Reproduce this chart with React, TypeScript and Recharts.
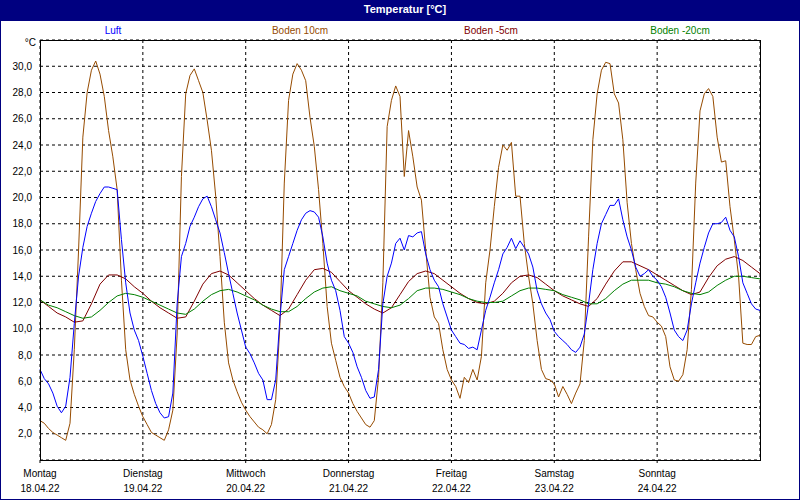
import { LineChart, Line, XAxis, YAxis, CartesianGrid } from 'recharts'

const FONT = '"Liberation Sans", Arial, sans-serif'

const dayNames = ['Montag', 'Dienstag', 'Mittwoch', 'Donnerstag', 'Freitag', 'Samstag', 'Sonntag']
const dayDates = ['18.04.22', '19.04.22', '20.04.22', '21.04.22', '22.04.22', '23.04.22', '24.04.22']
const dayTicks = [0, 24, 48, 72, 96, 120, 144]
const tempTicks = [2, 4, 6, 8, 10, 12, 14, 16, 18, 20, 22, 24, 26, 28, 30, 32]

// hourly values, hour 0 = 18.04.22 00:00
const luft = [
  6.9, 6.2, 5.8, 5.1, 4.1, 3.6, 4.1, 6.3, 10.4, 14.0,
  16.2, 17.8, 18.8, 19.7, 20.3, 20.8, 20.8, 20.7, 20.6, 16.8,
  13.5, 11.2, 9.9, 9.1, 7.9, 6.6, 5.3, 4.3, 3.6, 3.2,
  3.3, 5.1, 11.9, 15.5, 16.5, 17.8, 18.5, 19.3, 19.9, 20.1,
  19.3, 18.3, 17.3, 15.8, 14.2, 12.7, 11.2, 9.9, 8.6, 8.1,
  7.4, 6.6, 6.1, 4.6, 4.6, 6.1, 10.9, 14.5, 15.5, 16.5,
  17.5, 18.3, 18.8, 19.0, 18.9, 18.5, 17.0, 15.0, 13.7, 12.9,
  11.4, 9.4, 8.9, 8.2, 7.1, 6.3, 5.3, 4.7, 4.8, 6.9,
  11.9, 14.0, 15.0, 16.5, 16.9, 16.0, 17.1, 17.0, 17.3, 17.4,
  15.7, 14.5, 13.7, 13.2, 11.9, 10.9, 9.9, 9.4, 8.9, 8.8,
  8.5, 8.6, 8.4, 9.9, 11.4, 12.4, 13.5, 14.5, 15.7, 16.2,
  16.9, 16.1, 16.7, 16.2, 15.7, 14.7, 12.9, 11.9, 11.2, 10.7,
  9.8, 9.4, 9.1, 8.8, 8.4, 8.2, 8.6, 9.6, 11.9, 14.5,
  16.5, 18.0, 18.7, 19.4, 19.4, 19.9, 18.3, 17.0, 16.0, 14.7,
  14.0, 14.2, 14.5, 14.0, 13.7, 13.2, 12.4, 11.2, 9.9, 9.4,
  9.1, 9.9, 11.9, 13.5, 15.0, 16.2, 17.3, 18.0, 18.0, 18.1,
  18.5, 17.5, 17.0, 15.5, 13.5, 12.7, 11.9, 11.5, 11.4,
]

const boden10 = [
  3.0, 2.8, 2.4, 2.1, 1.9, 1.7, 1.5, 2.8, 8.4, 16.0,
  24.6, 28.0, 29.7, 30.4, 29.4, 27.7, 25.1, 23.1, 20.6, 13.7,
  8.4, 6.1, 5.0, 4.1, 3.3, 2.7, 2.1, 1.9, 1.7, 1.5,
  2.3, 3.8, 9.6, 21.6, 27.9, 29.3, 29.8, 28.9, 28.0, 25.9,
  23.6, 20.1, 15.5, 10.5, 7.4, 6.1, 5.2, 4.4, 3.8, 3.3,
  2.9, 2.5, 2.3, 2.0, 2.7, 4.6, 10.4, 21.1, 27.4, 29.4,
  30.2, 29.7, 28.9, 26.1, 23.9, 20.6, 16.5, 11.7, 8.9, 7.6,
  6.3, 5.6, 5.1, 4.3, 3.7, 3.2, 2.7, 2.5, 3.0, 6.3,
  13.5, 25.4, 27.4, 28.5, 27.7, 21.6, 25.1, 23.1, 20.8, 19.8,
  16.0, 12.4, 10.9, 10.4, 8.4, 6.9, 6.1, 5.6, 4.7, 6.3,
  5.9, 6.9, 6.1, 7.9, 13.5, 16.0, 19.3, 22.3, 24.0, 23.6,
  24.2, 20.1, 20.1, 16.5, 14.0, 11.9, 9.1, 6.9, 6.2, 6.1,
  5.8, 4.8, 5.6, 5.0, 4.3, 5.1, 5.8, 9.1, 17.0, 24.4,
  27.9, 29.7, 30.3, 30.2, 27.9, 27.2, 24.4, 19.6, 16.5, 14.5,
  12.7, 11.7, 11.0, 10.9, 10.5, 10.2, 9.4, 7.1, 6.1, 6.0,
  6.5, 8.4, 13.0, 21.1, 26.6, 27.9, 28.3, 27.7, 24.6, 22.7,
  22.8, 19.3, 16.8, 14.0, 8.9, 8.8, 8.8, 9.4, 9.5,
]

// every 2 hours
const boden5 = [
  12.2, 11.7, 11.2, 10.9, 10.5, 10.6, 11.9, 13.4, 14.1, 14.1,
  13.8, 13.2, 12.7, 12.1, 11.6, 11.2, 10.8, 10.9, 12.1, 13.4,
  14.2, 14.4, 14.1, 13.5, 12.9, 12.3, 11.8, 11.4, 11.0, 11.5,
  12.6, 13.7, 14.5, 14.6, 14.3, 13.6, 12.9, 12.4, 11.9, 11.5,
  11.2, 11.6, 12.6, 13.6, 14.2, 14.4, 14.2, 13.7, 13.2, 12.7,
  12.3, 12.0, 11.9, 12.1, 12.7, 13.5, 14.0, 14.1, 13.9, 13.4,
  12.9, 12.5, 12.2, 11.9, 11.7, 12.3, 13.4, 14.4, 15.1, 15.1,
  14.8, 14.5, 14.1, 13.7, 13.3, 12.9, 12.6, 12.8, 13.9, 14.8,
  15.3, 15.5, 15.2, 14.7, 14.2,
]

const boden20 = [
  12.2, 11.8, 11.6, 11.3, 11.0, 10.8, 10.9, 11.4, 12.0, 12.5,
  12.7, 12.6, 12.4, 12.1, 11.8, 11.5, 11.2, 11.1, 11.5, 12.1,
  12.6, 12.9, 13.0, 12.8, 12.5, 12.2, 11.8, 11.5, 11.3, 11.3,
  11.7, 12.3, 12.8, 13.1, 13.2, 12.9, 12.7, 12.5, 12.1, 11.9,
  11.7, 11.6, 11.8, 12.3, 12.9, 13.1, 13.1, 13.0, 12.8, 12.6,
  12.3, 12.1, 12.0, 12.0, 12.1, 12.5, 12.9, 13.1, 13.1, 13.0,
  12.9, 12.6, 12.4, 12.2, 11.9, 11.9, 12.3, 12.9, 13.4, 13.7,
  13.7, 13.7, 13.5, 13.4, 13.2, 12.9, 12.7, 12.6, 12.8, 13.3,
  13.7, 14.0, 14.0, 13.9, 13.8,
]

const rows = luft.map((v, h) => ({
  h,
  luft: v,
  boden10: boden10[h],
  boden5: h % 2 === 0 ? boden5[h / 2] : null,
  boden20: h % 2 === 0 ? boden20[h / 2] : null,
}))

const legend = [
  { name: 'Luft', color: '#0000ff', x: 113 },
  { name: 'Boden 10cm', color: '#964b00', x: 300 },
  { name: 'Boden -5cm', color: '#800000', x: 491 },
  { name: 'Boden -20cm', color: '#008000', x: 680 },
]

function DayTick({ x, y, payload }: any) {
  const i = Math.round(payload.value / 24)
  return (
    <g transform={`translate(${x},${y})`}>
      <text textAnchor="middle" fontSize={10} fontFamily={FONT} fill="#000">
        <tspan x={0} y={12}>{dayNames[i]}</tspan>
        <tspan x={0} y={27}>{dayDates[i]}</tspan>
      </text>
    </g>
  )
}

export default function App() {
  return (
    <div
      style={{
        position: 'absolute',
        left: 0,
        top: 0,
        width: 800,
        height: 500,
        background: '#fff',
        fontFamily: FONT,
        overflow: 'hidden',
      }}
    >
      <div style={{ position: 'absolute', left: 0, top: 0 }}>
        <LineChart width={800} height={500} data={rows} margin={{ top: 40, right: 40, bottom: 10, left: 0 }}>
          <CartesianGrid stroke="#000" strokeDasharray="3 3" />
          <XAxis
            type="number"
            dataKey="h"
            domain={[0, 168]}
            ticks={dayTicks}
            interval={0}
            height={30}
            axisLine={false}
            tickSize={3}
            tickLine={{ stroke: '#000' }}
            tick={<DayTick />}
          />
          <YAxis
            type="number"
            domain={[0, 32]}
            ticks={tempTicks}
            interval={0}
            width={40}
            axisLine={false}
            tickLine={false}
            tickSize={0}
            tickMargin={8}
            tick={{ fontSize: 10, fill: '#000', fontFamily: FONT }}
            tickFormatter={(v: number) => (v === 32 ? '' : v.toFixed(1).replace('.', ','))}
          />
          <Line dataKey="boden10" stroke="#964b00" strokeWidth={1} dot={false} activeDot={false} isAnimationActive={false} />
          <Line dataKey="boden5" stroke="#800000" strokeWidth={1} dot={false} activeDot={false} connectNulls isAnimationActive={false} />
          <Line dataKey="boden20" stroke="#008000" strokeWidth={1} dot={false} activeDot={false} connectNulls isAnimationActive={false} />
          <Line dataKey="luft" stroke="#0000ff" strokeWidth={1} dot={false} activeDot={false} isAnimationActive={false} />
        </LineChart>
      </div>

      {/* plot frame */}
      <div
        style={{
          position: 'absolute',
          left: 40,
          top: 40,
          width: 721,
          height: 421,
          border: '1px solid #000',
          boxSizing: 'border-box',
          pointerEvents: 'none',
        }}
      />

      <div style={{ position: 'absolute', left: 0, top: 37, width: 36, textAlign: 'right', fontSize: 10, lineHeight: '12px' }}>
        °C
      </div>

      {/* title bar */}
      <div
        style={{
          position: 'absolute',
          left: 0,
          top: 0,
          width: 800,
          height: 21,
          background: '#000080',
          color: '#fff',
          fontWeight: 'bold',
          fontSize: 11,
          lineHeight: '18px',
          textAlign: 'center',
          paddingLeft: 10,
          boxSizing: 'border-box',
        }}
      >
        Temperatur [°C]
      </div>

      {legend.map((l) => (
        <div
          key={l.name}
          style={{
            position: 'absolute',
            left: l.x - 60,
            top: 24,
            width: 120,
            textAlign: 'center',
            fontSize: 10,
            lineHeight: '14px',
            color: l.color,
          }}
        >
          {l.name}
        </div>
      ))}

      {/* window frame */}
      <div
        style={{
          position: 'absolute',
          left: 0,
          top: 0,
          width: 800,
          height: 500,
          border: '1px solid #000080',
          boxSizing: 'border-box',
          pointerEvents: 'none',
        }}
      />
    </div>
  )
}
